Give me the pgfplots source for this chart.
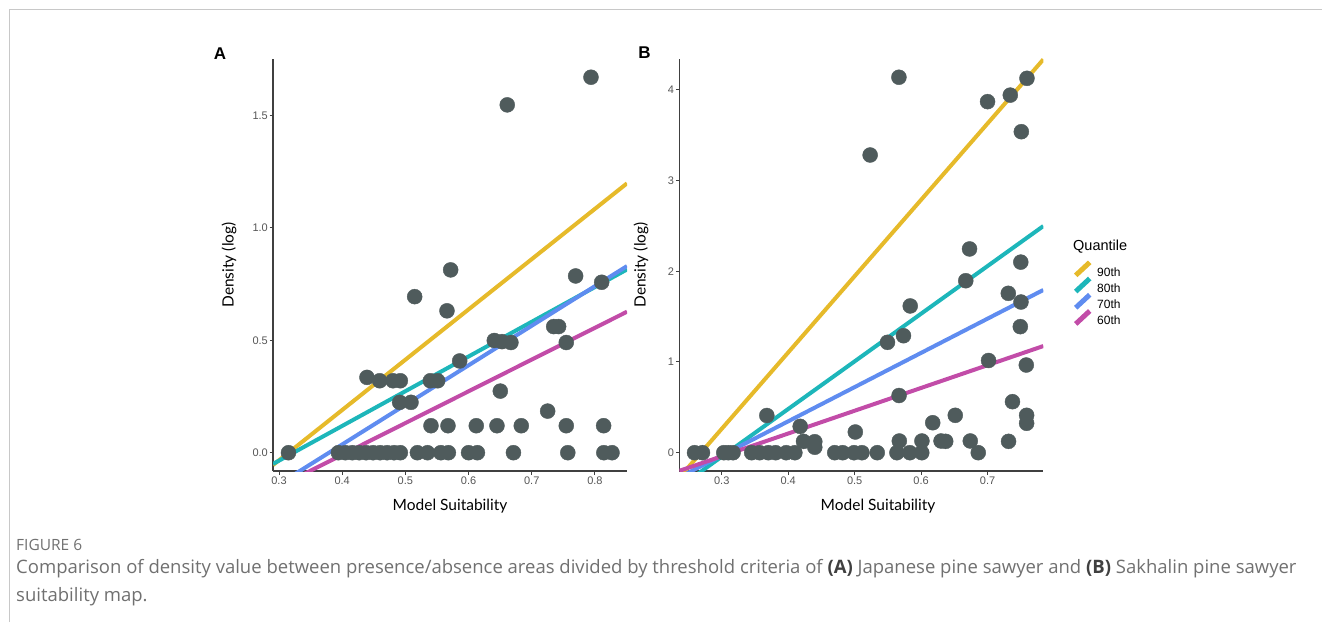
\documentclass[border=0pt]{standalone}
\usepackage{pgfplots}
\pgfplotsset{compat=1.18}
\usepackage{fontspec}
\setmainfont{Liberation Sans}
\newfontfamily\lato{Lato}
\newfontfamily\opensans{Open Sans}
\definecolor{cyel}{HTML}{E6BA2A}
\definecolor{cteal}{HTML}{1DB6BA}
\definecolor{cblue}{HTML}{5F8CF0}
\definecolor{cmag}{HTML}{C24CA8}
\definecolor{cpt}{HTML}{4F5B5C}
\definecolor{ticktext}{HTML}{555555}
\definecolor{framegray}{HTML}{C8C8C8}
\definecolor{capgray}{HTML}{707070}
\pgfplotsset{
  panel/.style={
    scale only axis,
    axis lines=left,
    axis line style={-, draw=black!75, line width=1.1pt},
    tick align=outside,
    major tick length=3.5pt,
    tick style={draw=black!75, line width=1pt},
    minor tick num=0,
    /pgf/number format/assume math mode=true,
    clip=true,
  },
  pts/.style={only marks, mark=*, mark size=7.5pt, color=cpt, mark options={draw=none, fill=cpt}, forget plot},
  fit/.style={line width=4pt, no marks},
}
\begin{document}
\begin{tikzpicture}
\path[use as bounding box] (0,0) rectangle (1322pt,622pt);
\draw[framegray, line width=1pt] (9.5pt,0pt) -- (9.5pt,612.5pt) -- (1322pt,612.5pt);

% Panel A
\begin{axis}[panel,
  at={(273pt,151pt)}, anchor=south west, width=354pt, height=412pt,
  xmin=0.2905, xmax=0.8507, ymin=-0.0814, ymax=1.751,
  xtick={0.3,0.4,0.5,0.6,0.7,0.8},
  ytick={0,0.5,1,1.5},
  yticklabel style={font=\fontsize{11}{11}\selectfont, text=ticktext, inner sep=1.5pt, /pgf/number format/.cd, fixed, fixed zerofill, precision=1},
  xticklabel style={font=\fontsize{11}{11}\selectfont, text=ticktext, inner sep=2pt, /pgf/number format/.cd, fixed, fixed zerofill, precision=1},
  xlabel={Model Suitability}, ylabel={Density (log)},
  every axis x label/.style={at={(axis description cs:0.5,-0.085)}, anchor=center, font=\lato\fontsize{15.5}{16}\selectfont},
  every axis y label/.style={at={(axis description cs:-0.124,0.5)}, anchor=center, rotate=90, font=\lato\fontsize{15.5}{16}\selectfont},
]
\addplot[pts] table {
x y
0.6612 1.547
0.7937 1.670
0.5716 0.813
0.7694 0.786
0.8106 0.758
0.5147 0.694
0.5658 0.631
0.7347 0.561
0.7425 0.561
0.6407 0.499
0.6528 0.494
0.6670 0.490
0.7546 0.490
0.5859 0.408
0.4392 0.335
0.4593 0.320
0.4804 0.320
0.4920 0.320
0.5395 0.320
0.5510 0.320
0.4909 0.224
0.5089 0.224
0.6502 0.274
0.7251 0.185
0.5405 0.120
0.5674 0.120
0.6122 0.120
0.6449 0.120
0.6834 0.120
0.7546 0.120
0.8137 0.120
0.315 0
0.394 0
0.405 0
0.416 0
0.427 0
0.438 0
0.449 0
0.460 0
0.471 0
0.482 0
0.492 0
0.519 0
0.535 0
0.556 0
0.568 0
0.600 0
0.614 0
0.671 0
0.757 0
0.814 0
0.827 0
};
\addplot[fit, cyel] coordinates {(0.2905,-0.055) (0.8507,1.198)};
\addplot[fit, cteal] coordinates {(0.2905,-0.050) (0.8507,0.815)};
\addplot[fit, cblue] coordinates {(0.2905,-0.156) (0.8507,0.830)};
\addplot[fit, cmag] coordinates {(0.2905,-0.164) (0.8507,0.627)};
\end{axis}

% Panel B
\begin{axis}[panel,
  at={(679.3pt,151pt)}, anchor=south west, width=364pt, height=412pt,
  xmin=0.2361, xmax=0.7839, ymin=-0.2017, ymax=4.338,
  xtick={0.3,0.4,0.5,0.6,0.7},
  ytick={0,1,2,3,4},
  yticklabel style={font=\fontsize{11}{11}\selectfont, text=ticktext, inner sep=1.5pt},
  xticklabel style={font=\fontsize{11}{11}\selectfont, text=ticktext, inner sep=2pt, /pgf/number format/.cd, fixed, fixed zerofill, precision=1},
  xlabel={Model Suitability}, ylabel={Density (log)},
  every axis x label/.style={at={(axis description cs:0.546,-0.085)}, anchor=center, font=\lato\fontsize{15.5}{16}\selectfont},
  every axis y label/.style={at={(axis description cs:-0.105,0.5)}, anchor=center, rotate=90, font=\lato\fontsize{15.5}{16}\selectfont},
  legend style={at={(axis description cs:1.0816,0.513)}, anchor=north west, draw=none, fill=none,
    font=\fontsize{12}{12}\selectfont, row sep=-3.3pt, inner sep=0pt, column sep=3pt,
    nodes={inner sep=2pt, text height=9pt, text depth=1pt}},
  legend cell align=left,
  legend image code/.code={\draw[line width=5pt] (0pt,-3pt) -- (14pt,10pt);},
]
\addplot[pts] table {
x y
0.5666 4.137
0.5233 3.280
0.7000 3.868
0.7342 3.940
0.7593 4.125
0.7508 3.537
0.6729 2.245
0.7500 2.100
0.6672 1.895
0.7312 1.756
0.7503 1.660
0.7493 1.389
0.5836 1.617
0.5735 1.289
0.5494 1.216
0.7015 1.016
0.7583 0.966
0.5668 0.630
0.7375 0.562
0.3678 0.410
0.6514 0.412
0.7588 0.412
0.7588 0.324
0.6175 0.330
0.4180 0.290
0.5010 0.228
0.4230 0.125
0.4400 0.121
0.4400 0.060
0.5672 0.129
0.6012 0.129
0.6300 0.129
0.6370 0.125
0.6740 0.129
0.7316 0.125
0.259 0
0.271 0
0.303 0
0.310 0
0.317 0
0.345 0
0.357 0
0.370 0
0.381 0
0.397 0
0.410 0
0.470 0
0.482 0
0.499 0
0.511 0
0.534 0
0.5636 0
0.583 0
0.601 0
0.686 0
};
\addplot[fit, cyel] coordinates {(0.2361,-0.274) (0.7839,4.333)};
\addlegendentry{90th}
\addplot[fit, cteal] coordinates {(0.2361,-0.379) (0.7839,2.497)};
\addlegendentry{80th}
\addplot[fit, cblue] coordinates {(0.2361,-0.272) (0.7839,1.793)};
\addlegendentry{70th}
\addplot[fit, cmag] coordinates {(0.2361,-0.200) (0.7839,1.175)};
\addlegendentry{60th}
\end{axis}

\node[anchor=west, font=\fontsize{14.5}{15}\selectfont, inner sep=0pt] at (1073pt,375.3pt) {Quantile};
\node[font=\bfseries\fontsize{17}{17}\selectfont] at (220pt,568pt) {A};
\node[font=\bfseries\fontsize{17}{17}\selectfont] at (644.5pt,569pt) {B};

\node[anchor=base west, inner sep=0pt, font=\opensans\fontsize{15.5}{16}\selectfont, text=capgray] at (16pt,72pt) {FIGURE 6};
\node[anchor=base west, inner sep=0pt, align=left, font=\opensans\fontsize{18.5}{28}\selectfont, text=capgray] at (16pt,21pt)
  {Comparison of density value between presence/absence areas divided by threshold criteria of \textcolor{black!75}{\textbf{(A)}} Japanese pine sawyer and \textcolor{black!75}{\textbf{(B)}} Sakhalin pine sawyer\\suitability map.};
\end{tikzpicture}
\end{document}
